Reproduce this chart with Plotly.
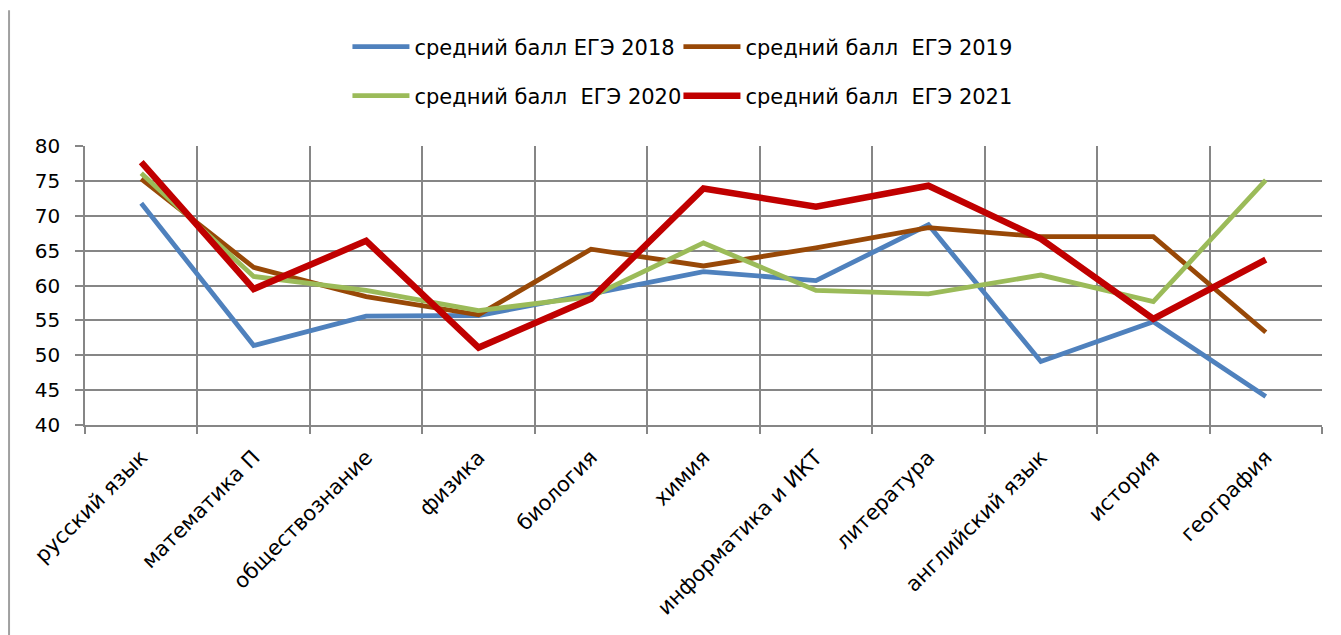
import plotly.graph_objects as go

categories = ["русский язык", "математика П", "обществознание", "физика", "биология",
              "химия", "информатика и ИКТ", "литература", "английский язык", "история", "география"]

ege_2018 = [71.8, 51.4, 55.6, 55.7, 58.8, 62.0, 60.7, 68.7, 49.1, 54.8, 44.1]
ege_2019 = [75.3, 62.6, 58.4, 55.8, 65.2, 62.8, 65.4, 68.3, 67.0, 67.0, 53.3]
ege_2020 = [76.1, 61.3, 59.3, 56.4, 58.4, 66.1, 59.3, 58.8, 61.5, 57.7, 75.1]
ege_2021 = [77.7, 59.5, 66.4, 51.1, 58.1, 73.9, 71.3, 74.3, 66.7, 55.2, 63.7]

series_names = ["средний балл ЕГЭ 2018", "средний балл  ЕГЭ 2019",
                "средний балл  ЕГЭ 2020", "средний балл  ЕГЭ 2021"]

FONT = "DejaVu Sans"
GRID = "#868686"

fig = go.Figure()
styles = [
    (ege_2018, "#4F81BD", 4.8, "legend", 259),
    (ege_2019, "#984807", 4.8, "legend", 295),
    (ege_2020, "#9BBB59", 4.8, "legend2", 259),
    (ege_2021, "#C00000", 6.5, "legend2", 295),
]
for name, (vals, col, w, lg, lw) in zip(series_names, styles):
    fig.add_trace(go.Scatter(x=categories, y=vals, mode="lines", name=name,
                             line=dict(color=col, width=w), legend=lg, legendwidth=lw))

legend_common = dict(orientation="h", xanchor="center", x=0.4943, yanchor="middle",
                     font=dict(family=FONT, size=21, color="#000000"),
                     itemwidth=57, bgcolor="rgba(0,0,0,0)",
                     traceorder="normal")

fig.update_layout(
    width=1333, height=627,
    margin=dict(l=77, r=19, t=138, b=210),
    paper_bgcolor="white", plot_bgcolor="white",
    font=dict(family=FONT, size=20, color="#000000"),
    legend=dict(**legend_common, y=1.355),
    legend2=dict(**legend_common, y=1.179),
    xaxis=dict(type="category", range=[-0.5, 10.5], tickson="boundaries",
               showgrid=True, gridcolor=GRID, gridwidth=1.5,
               showline=True, linecolor=GRID, linewidth=1.5,
               ticks="outside", ticklen=7, tickcolor=GRID, tickwidth=1.5,
               tickangle=-45, tickfont=dict(family=FONT, size=21),
               ticklabelstandoff=10, zeroline=False),
    yaxis=dict(range=[40, 80], dtick=5, tick0=40,
               showgrid=True, gridcolor=GRID, gridwidth=1.5,
               showline=True, linecolor=GRID, linewidth=1.5,
               ticks="outside", ticklen=8, tickcolor=GRID, tickwidth=1.5,
               tickfont=dict(family=FONT, size=20), ticklabelstandoff=11,
               zeroline=False),
    shapes=[dict(type="line", xref="paper", yref="paper",
                 x0=-0.0614, x1=-0.0614, y0=1.487, y1=-0.76,
                 line=dict(color="#A0A0A0", width=2))],
)

fig.write_html("out.html")
